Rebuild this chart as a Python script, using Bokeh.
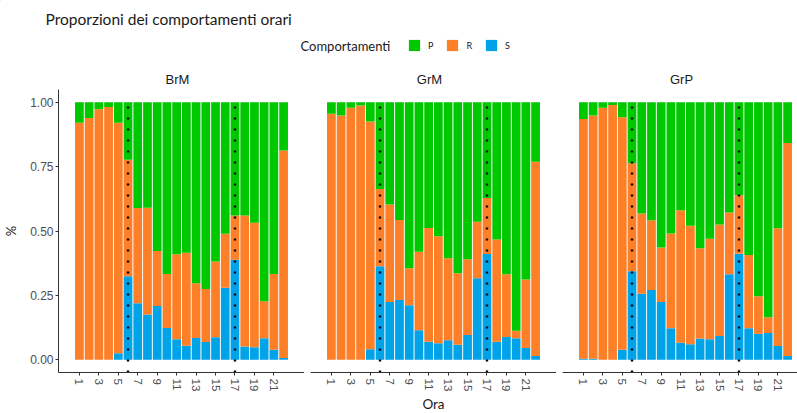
import math
from bokeh.plotting import figure
from bokeh.models import ColumnDataSource, FixedTicker, Range1d, Legend, LegendItem
from bokeh.layouts import column, row
from bokeh.core.properties import value
from bokeh.embed import file_html
from bokeh.resources import INLINE

# ---------------- data ----------------
TITLE = "Proporzioni dei comportamenti orari"
LEGEND_TITLE = "Comportamenti"
GROUPS = ["BrM", "GrM", "GrP"]
CATEGORIES = ["S", "R", "P"]          # stacking order bottom -> top
LEGEND_ORDER = ["P", "R", "S"]
HOURS = list(range(1, 23))
X_TICKS = [1, 3, 5, 7, 9, 11, 13, 15, 17, 19, 21]
X_TICK_LABELS = ["1", "3", "5", "7", "9", "11", "13", "15", "17", "19", "21"]
Y_TICKS = [0, 0.25, 0.5, 0.75, 1.0]
Y_TICK_LABELS = ["0.00", "0.25", "0.50", "0.75", "1.00"]
SUN_LINES = [6, 17]
X_LABEL = "Ora"
Y_LABEL = "%"

brm_S = [0, 0, 0, 0, 0.025, 0.324, 0.219, 0.175, 0.208, 0.123, 0.079, 0.054, 0.084, 0.069, 0.087, 0.279, 0.388, 0.051, 0.048, 0.083, 0.038, 0.006]
brm_R = [0.921, 0.939, 0.973, 0.982, 0.896, 0.453, 0.370, 0.415, 0.214, 0.210, 0.331, 0.361, 0.213, 0.206, 0.294, 0.210, 0.172, 0.509, 0.484, 0.144, 0.295, 0.807]
brm_P = [0.079, 0.061, 0.027, 0.018, 0.079, 0.223, 0.411, 0.410, 0.578, 0.667, 0.590, 0.585, 0.703, 0.725, 0.619, 0.511, 0.440, 0.440, 0.468, 0.773, 0.667, 0.187]

grm_S = [0, 0, 0, 0, 0.040, 0.363, 0.224, 0.232, 0.211, 0.114, 0.070, 0.064, 0.075, 0.058, 0.096, 0.316, 0.411, 0.070, 0.088, 0.083, 0.045, 0.014]
grm_R = [0.956, 0.949, 0.979, 0.988, 0.886, 0.300, 0.379, 0.311, 0.144, 0.305, 0.442, 0.416, 0.319, 0.278, 0.294, 0.220, 0.217, 0.397, 0.244, 0.029, 0.266, 0.755]
grm_P = [0.044, 0.051, 0.021, 0.012, 0.074, 0.337, 0.397, 0.457, 0.645, 0.581, 0.488, 0.520, 0.606, 0.664, 0.610, 0.464, 0.372, 0.533, 0.668, 0.888, 0.689, 0.231]

grp_S = [0.003, 0.003, 0, 0, 0.038, 0.344, 0.256, 0.271, 0.224, 0.122, 0.066, 0.060, 0.082, 0.079, 0.092, 0.332, 0.412, 0.122, 0.101, 0.104, 0.053, 0.014]
grp_R = [0.932, 0.946, 0.979, 0.990, 0.904, 0.419, 0.312, 0.271, 0.212, 0.368, 0.515, 0.460, 0.351, 0.391, 0.433, 0.240, 0.227, 0.285, 0.145, 0.061, 0.458, 0.828]
grp_P = [0.065, 0.051, 0.021, 0.010, 0.058, 0.237, 0.432, 0.458, 0.564, 0.510, 0.419, 0.480, 0.567, 0.530, 0.475, 0.428, 0.361, 0.593, 0.754, 0.835, 0.489, 0.158]

SERIES = {
    "BrM": {"S": brm_S, "R": brm_R, "P": brm_P},
    "GrM": {"S": grm_S, "R": grm_R, "P": grm_P},
    "GrP": {"S": grp_S, "R": grp_R, "P": grp_P},
}
COLORS = {"P": "#00c800", "R": "#fd7f28", "S": "#00a2e8"}

# ---------------- layout constants ----------------
W = 797
TOP_H = 89
LEFT = 54
GAP = 6
FW = 246
FH = 283
BOTTOM = 41
X0, X1 = -1.15, 24.15
Y0, Y1 = -0.05, 1.05
PXU = FW / (X1 - X0)

AXIS_FONT = "Liberation Sans"
TEXT_FONT = "Lato"

# ---------------- header (title, legend, strip labels) ----------------
top = figure(width=W, height=TOP_H, x_range=Range1d(0, W), y_range=Range1d(TOP_H, 0),
             x_axis_type=None, y_axis_type=None, toolbar_location=None,
             output_backend="svg", min_border=0)
top.grid.visible = False
top.outline_line_color = None

top.text(x=[45], y=[18], text=[TITLE], text_font=value(TEXT_FONT), text_font_size="15.5px",
         text_baseline="middle", text_align="left", text_color="#1a1a1a")
top.text(x=[300], y=[45], text=[LEGEND_TITLE], text_font=value(TEXT_FONT), text_font_size="13px",
         text_baseline="middle", text_align="left", text_color="#1a1a1a")

dummy = {}
for c in LEGEND_ORDER:
    dummy[c] = top.vbar(x=[-1000], top=[-1000], bottom=[-1001], width=1,
                        fill_color=COLORS[c], line_color=None)
legend = Legend(items=[LegendItem(label=c, renderers=[dummy[c]]) for c in LEGEND_ORDER],
                orientation="horizontal", location=(407, 37),
                glyph_width=14, glyph_height=14, label_height=14, label_width=0,
                label_standoff=7, spacing=12, padding=0, margin=0,
                border_line_color=None, background_fill_alpha=0,
                label_text_font=TEXT_FONT, label_text_font_size="9px",
                label_text_color="#1a1a1a")
top.add_layout(legend)

# ---------------- panels ----------------
panels = []
frame_left = LEFT
strip_x = []
for i, g in enumerate(GROUPS):
    fw = FW if i < 2 else W - (LEFT + 2 * FW + 2 * GAP)
    strip_x.append(frame_left + FW / 2)
    p = figure(frame_width=fw, frame_height=FH,
               x_range=Range1d(X0, X0 + fw / PXU), y_range=Range1d(Y0, Y1),
               min_border_left=LEFT if i == 0 else GAP, min_border_right=0,
               min_border_top=0, min_border_bottom=BOTTOM,
               y_axis_location="left" if i == 0 else None,
               toolbar_location=None, output_backend="svg")
    p.grid.visible = False
    p.outline_line_color = None
    p.background_fill_color = "white"

    src = ColumnDataSource(dict(hour=HOURS, **SERIES[g]))
    p.vbar_stack(CATEGORIES, x="hour", width=0.9, source=src,
                 fill_color=[COLORS[c] for c in CATEGORIES], line_color=None)

    p.segment(x0=SUN_LINES, x1=SUN_LINES, y0=[Y0] * len(SUN_LINES), y1=[1.0] * len(SUN_LINES),
              line_color="black", line_width=2.4, line_dash="2 9")

    xa = p.xaxis[0]
    xa.ticker = FixedTicker(ticks=X_TICKS)
    xa.major_label_overrides = {t: l for t, l in zip(X_TICKS, X_TICK_LABELS)}
    xa.major_label_orientation = -math.pi / 2
    xa.major_label_text_font = AXIS_FONT
    xa.major_label_text_font_size = "11.5px"
    xa.major_label_text_color = "#4d4d4d"
    xa.major_label_text_baseline = "bottom"
    xa.major_label_standoff = 3
    xa.major_tick_in = 0
    xa.major_tick_out = 3
    xa.minor_tick_out = 0
    xa.minor_tick_in = 0
    xa.major_tick_line_color = "#333333"
    xa.axis_line_color = "#333333"
    xa.axis_line_width = 1
    if i == 1:
        xa.axis_label = X_LABEL
        xa.axis_label_text_font = TEXT_FONT
        xa.axis_label_text_font_size = "13.5px"
        xa.axis_label_text_font_style = "normal"
        xa.axis_label_text_color = "#1a1a1a"
        xa.axis_label_standoff = 2

    if i == 0:
        ya = p.yaxis[0]
        ya.ticker = FixedTicker(ticks=Y_TICKS)
        ya.major_label_overrides = {t: l for t, l in zip(Y_TICKS, Y_TICK_LABELS)}
        ya.major_label_text_font = AXIS_FONT
        ya.major_label_text_font_size = "12px"
        ya.major_label_text_color = "#4d4d4d"
        ya.major_label_standoff = 2
        ya.major_tick_in = 0
        ya.major_tick_out = 3
        ya.minor_tick_out = 0
        ya.minor_tick_in = 0
        ya.major_tick_line_color = "#333333"
        ya.axis_line_color = "#333333"
        ya.axis_label = Y_LABEL
        ya.axis_label_text_font = TEXT_FONT
        ya.axis_label_text_font_size = "13px"
        ya.axis_label_text_font_style = "normal"
        ya.axis_label_text_color = "#1a1a1a"
        ya.axis_label_standoff = 8

    panels.append(p)
    frame_left += fw + GAP

top.text(x=strip_x, y=[79] * len(GROUPS), text=GROUPS, text_font=value(AXIS_FONT),
         text_font_size="13px", text_baseline="middle", text_align="center",
         text_color="#1a1a1a")

layout = column(top, row(*panels, spacing=0), spacing=0)
open("out.html", "w").write(file_html(layout, INLINE))
